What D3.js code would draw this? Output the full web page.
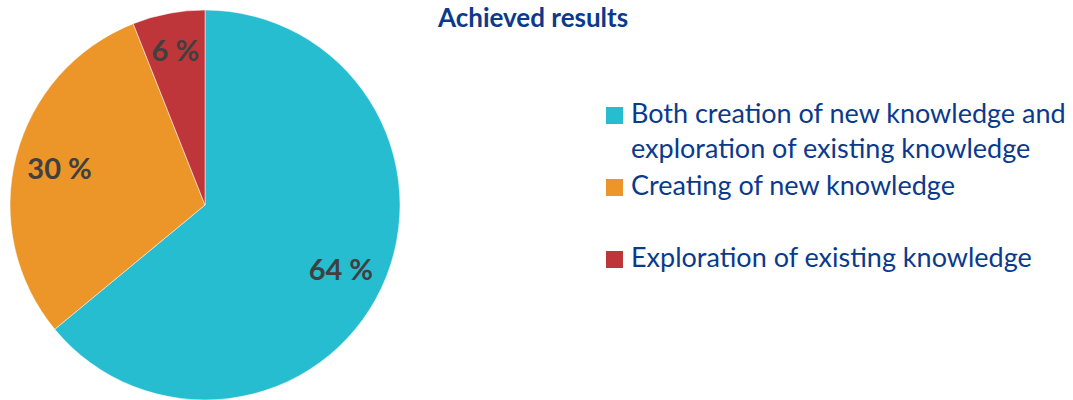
<!DOCTYPE html>
<html>
<head>
<meta charset="utf-8">
<script src="https://cdnjs.cloudflare.com/ajax/libs/d3/7.8.5/d3.min.js"></script>
<style>
    body { margin: 0; background: #ffffff; }
    svg { display: block; }
</style>
</head>
<body>
<div id="chart"></div>
<script>
var categories = ["Both creation of new knowledge and exploration of existing knowledge",
                  "Creating of new knowledge",
                  "Exploration of existing knowledge"];
var legend_lines = [["Both creation of new knowledge and", "exploration of existing knowledge"],
                    ["Creating of new knowledge"],
                    ["Exploration of existing knowledge"]];
var values = [64, 30, 6];
var value_labels = ["64 %", "30 %", "6 %"];
var title = "Achieved results";

function draw_pie() {
    var width = 1073;
    var height = 400;
    var radius = 195;
    var cx = 205, cy = 205;

    var color = d3.scaleOrdinal()
        .domain(categories)
        .range(["#27bdd1", "#ec9629", "#be363a"]);

    var svg = d3.select("#chart")
        .append("svg")
        .attr("width", width)
        .attr("height", height);

    var pie = d3.pie()
        .sort(null)
        .value(function(d) { return d.value; });

    var data = categories.map(function(c, i) {
        return { "name": c, "value": values[i], "label": value_labels[i] };
    });

    var arc = d3.arc().innerRadius(0).outerRadius(radius);

    var g = svg.append("g")
        .attr("transform", "translate(" + cx + "," + cy + ")");

    g.selectAll("path").data(pie(data)).enter()
        .append("path")
            .attr("d", arc)
            .attr("fill", function(d) { return color(d.data.name); })
            .attr("stroke", "#ffffff")
            .attr("stroke-width", 0.5);

    // label spots, as fraction of radius along the slice's middle angle
    var label_radius = [0.77, 0.77, 0.81];
    g.selectAll("text.value").data(pie(data)).enter()
        .append("text")
            .attr("class", "value")
            .attr("x", function(d, i) {
                var a = (d.startAngle + d.endAngle) / 2;
                return Math.sin(a) * radius * label_radius[i];
            })
            .attr("y", function(d, i) {
                var a = (d.startAngle + d.endAngle) / 2;
                return -Math.cos(a) * radius * label_radius[i];
            })
            .attr("dy", "0.38em")
            .attr("text-anchor", "middle")
            .style("font-family", "Lato, 'Open Sans', sans-serif")
            .style("font-weight", "bold")
            .style("font-size", "29px")
            .style("fill", "#404040")
            .text(function(d) { return d.data.label; });

    svg.append("text")
        .attr("x", 438)
        .attr("y", 27)
        .style("font-family", "Lato, 'Open Sans', sans-serif")
        .style("font-weight", "bold")
        .style("font-size", "26px")
        .style("fill", "#0b3a8c")
        .text(title);

    var legend_y = [107, 179, 251];
    var legend = svg.append("g").attr("class", "legend");
    var item = legend.selectAll("g").data(data).enter()
        .append("g")
            .attr("transform", function(d, i) { return "translate(606," + legend_y[i] + ")"; });

    item.append("rect")
        .attr("width", 17)
        .attr("height", 17)
        .attr("fill", function(d) { return color(d.name); });

    item.selectAll("text").data(function(d, i) { return legend_lines[i]; }).enter()
        .append("text")
            .attr("x", 25)
            .attr("y", function(d, j) { return 16 + j * 35; })
            .style("font-family", "Lato, 'Open Sans', sans-serif")
            .style("font-size", "27px")
            .style("fill", "#0b3a8c")
            .text(function(d) { return d; });
}

draw_pie();
</script>
</body>
</html>
